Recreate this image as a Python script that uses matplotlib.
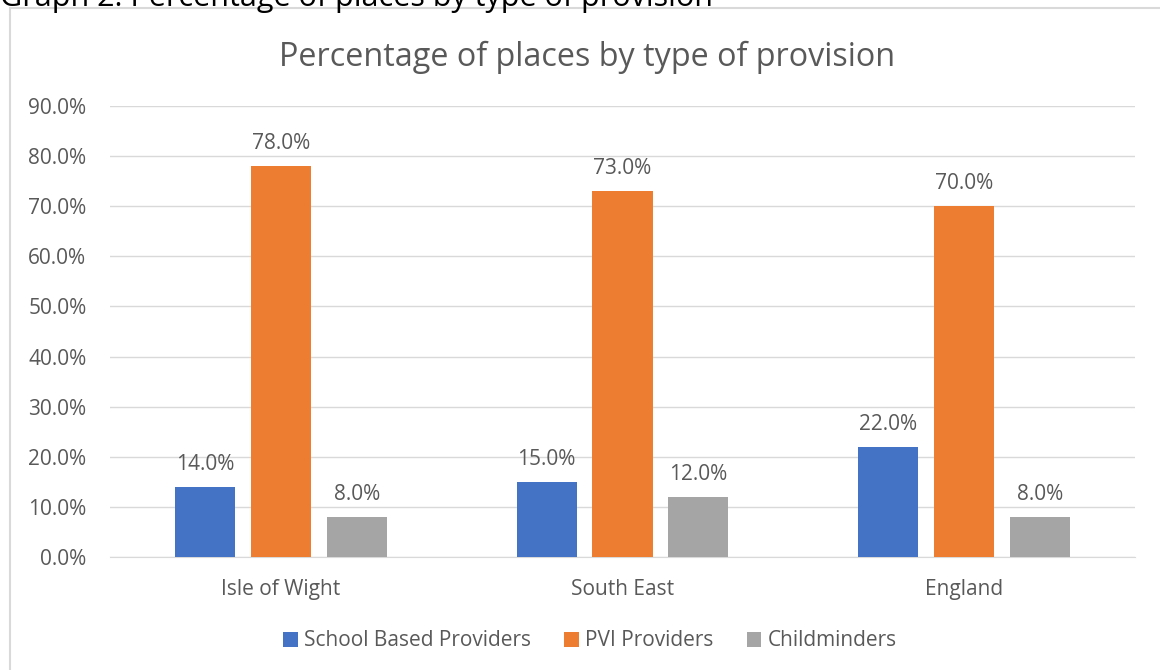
import matplotlib.pyplot as plt
import numpy as np
from matplotlib.patches import Rectangle

# Data
regions = ['Isle of Wight', 'South East', 'England']
school_based = [14.0, 15.0, 22.0]
pvi = [78.0, 73.0, 70.0]
childminders = [8.0, 12.0, 8.0]
series_names = ['School Based Providers', 'PVI Providers', 'Childminders']
colors = ['#4472C4', '#ED7D31', '#A5A5A5']

plt.rcParams['font.family'] = ['Open Sans', 'DejaVu Sans']
txt = '#595959'
fs = 15

fig = plt.figure(figsize=(11.6, 6.7), dpi=100)

# outer chart frame (cut off on right and bottom)
fig.patches.append(Rectangle((10 / 1160, -0.01), 1.1, 1 - 8 / 670 + 0.01,
                             transform=fig.transFigure, fill=False,
                             edgecolor='#d9d9d9', linewidth=1.5))

# clipped document caption above the chart
fig.text(0.0, 1 - 6 / 670, 'Graph 2: Percentage of places by type of provision',
         ha='left', va='baseline', fontsize=22, color='black')

ax = fig.add_axes([110 / 1160, 1 - 557 / 670, 1025 / 1160, 451 / 670])

x = np.arange(len(regions))
width = 0.176
step = 0.222
for i, (vals, name, c) in enumerate(zip([school_based, pvi, childminders], series_names, colors)):
    bars = ax.bar(x + (i - 1) * step, vals, width, color=c, label=name, zorder=3)
    for b, v in zip(bars, vals):
        ax.text(b.get_x() + b.get_width() / 2, v + 2.4, f'{v:.1f}%',
                ha='center', va='bottom', fontsize=fs, color=txt)

ax.set_xlim(-0.5, 2.5)
ax.set_ylim(0, 90)
ax.set_yticks(np.arange(0, 91, 10))
ax.set_yticklabels([f'{t:.1f}%' for t in np.arange(0, 91, 10)])
ax.set_xticks(x)
ax.set_xticklabels(regions)
ax.tick_params(axis='both', length=0, labelsize=fs, colors=txt)
ax.tick_params(axis='x', pad=16)
ax.tick_params(axis='y', pad=17)
ax.grid(axis='y', color='#d9d9d9', linewidth=1, zorder=0)
for s in ['top', 'right', 'left']:
    ax.spines[s].set_visible(False)
ax.spines['bottom'].set_color('#d9d9d9')

ax.set_title('Percentage of places by type of provision', fontsize=23.3,
             color=txt, pad=29, x=(587 - 110) / 1025)

leg = fig.legend(loc='center', bbox_to_anchor=(590 / 1160, 1 - 641 / 670), ncol=3,
                 frameon=False, fontsize=fs, handlelength=0.7, handleheight=0.7,
                 handletextpad=0.3, columnspacing=1.6)
for t in leg.get_texts():
    t.set_color(txt)

fig.savefig('out.png', dpi=100)
